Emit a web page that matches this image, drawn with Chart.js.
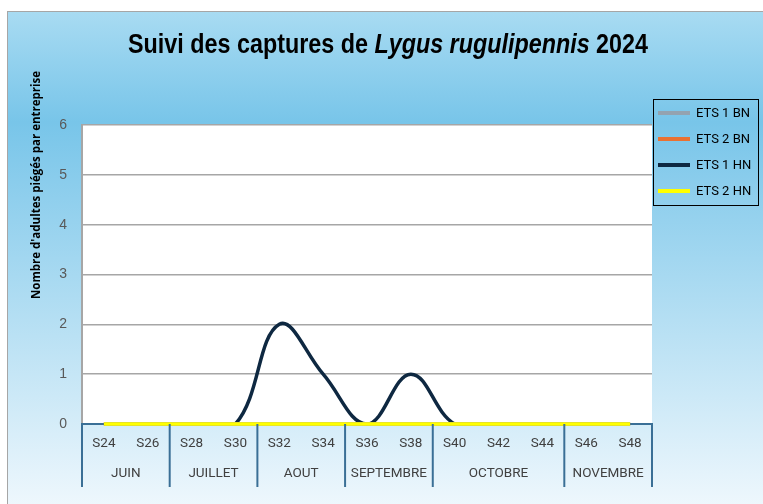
<!DOCTYPE html>
<html>
<head>
<meta charset="utf-8">
<script src="https://cdn.jsdelivr.net/npm/chart.js@4/dist/chart.umd.min.js"></script>
<style>
  html, body { margin: 0; padding: 0; background: #fff; }
  #frame {
    position: absolute; left: 7px; top: 11px; width: 760px; height: 500px;
    border: 1px solid #a6a6a6;
    background: linear-gradient(to bottom, #a8dbf2 0%, #78c5e9 22%, #f0f8fd 100%);
  }
  #c { position: absolute; left: 0; top: 0; }
</style>
</head>
<body>
<div id="frame"></div>
<canvas id="c" width="763" height="504"></canvas>
<script>
const weeks = ['S24', 'S26', 'S28', 'S30', 'S32', 'S34', 'S36', 'S38', 'S40', 'S42', 'S44', 'S46', 'S48'];
const months = ['JUIN', 'JUILLET', 'AOUT', 'SEPTEMBRE', 'OCTOBRE', 'NOVEMBRE'];
const monthWeeks = [2, 2, 2, 2, 3, 2];   // number of weeks under each month

const ets1BN = [0, 0, 0, 0, 0, 0, 0, 0, 0, 0, 0, 0, 0];
const ets2BN = [0, 0, 0, 0, 0, 0, 0, 0, 0, 0, 0, 0, 0];
const ets1HN = [0, 0, 0, 0, 2, 1, 0, 1, 0, 0, 0, 0, 0];
const ets2HN = [0, 0, 0, 0, 0, 0, 0, 0, 0, 0, 0, 0, 0];

// month centers and dividers in week-index units
let monthMid = [];
let monthEdges = [-0.5];
let start = 0;
monthWeeks.forEach(n => {
  monthMid.push(start + (n - 1) / 2);
  start += n;
  monthEdges.push(start - 0.5);
});

const sans = "Roboto, 'Liberation Sans', sans-serif";

const data = {
  labels: weeks,
  datasets: [
    { label: 'ETS 1 BN', data: ets1BN, borderColor: '#94a3b0', backgroundColor: '#94a3b0', order: 1 },
    { label: 'ETS 2 BN', data: ets2BN, borderColor: '#e97132', backgroundColor: '#e97132', order: 1 },
    { label: 'ETS 1 HN', data: ets1HN, borderColor: '#0e2841', backgroundColor: '#0e2841', order: 1 },
    { label: 'ETS 2 HN', data: ets2HN, borderColor: '#ffff00', backgroundColor: '#ffff00', order: 0 },
  ]
};
data.datasets.forEach(ds => {
  ds.borderWidth = 3.5;
  ds.pointRadius = 0;
  ds.tension = 0.4;
  ds.clip = false;
  ds.xAxisID = 'x';
});

const decor = {
  id: 'decor',
  beforeDraw(chart) {
    const a = chart.chartArea;
    const ctx = chart.ctx;
    ctx.save();
    ctx.fillStyle = '#ffffff';
    ctx.fillRect(a.left, a.top, a.right - a.left, a.bottom - a.top);
    ctx.restore();
  },
  afterDraw(chart) {
    const ctx = chart.ctx;
    const a = chart.chartArea;
    const x = chart.scales.x;
    const x2 = chart.scales.x2;
    ctx.save();

    // month dividers
    ctx.strokeStyle = '#3a6f96';
    ctx.lineWidth = 2;
    monthEdges.forEach(v => {
      const px = x2.getPixelForValue(v);
      ctx.beginPath();
      ctx.moveTo(px, x.top);
      ctx.lineTo(px, x2.bottom);
      ctx.stroke();
    });

    // title with italic species name, squeezed to look like a narrow face
    const tf = "27px 'Liberation Sans', sans-serif";
    const parts = [
      ['Suivi des captures de ', 'bold ' + tf],
      ['Lygus rugulipennis', 'italic bold ' + tf],
      [' 2024', 'bold ' + tf],
    ];
    let total = 0;
    parts.forEach(p => { ctx.font = p[1]; total += ctx.measureText(p[0]).width; });
    const squeeze = 520 / total;
    ctx.save();
    ctx.translate(388 - 260, 46);
    ctx.scale(squeeze, 1);
    ctx.fillStyle = '#000000';
    ctx.textBaseline = 'middle';
    ctx.textAlign = 'left';
    let tx = 0;
    parts.forEach(p => {
      ctx.font = p[1];
      ctx.fillText(p[0], tx, 0);
      tx += ctx.measureText(p[0]).width;
    });
    ctx.restore();

    // y axis title
    ctx.save();
    ctx.translate(37, a.top + 60);
    ctx.rotate(-Math.PI / 2);
    ctx.textAlign = 'center';
    ctx.textBaseline = 'middle';
    ctx.fillStyle = '#000000';
    ctx.font = "bold 11.5px 'Open Sans', sans-serif";
    ctx.fillText("Nombre d'adultes piégés par entreprise", 0, 0);
    ctx.restore();

    // legend box
    const lx = 653, ly = 99, lw = 105, lh = 106;
    ctx.strokeStyle = '#000000';
    ctx.lineWidth = 1;
    ctx.strokeRect(lx + 0.5, ly + 0.5, lw, lh);
    ctx.font = '13px ' + sans;
    ctx.textBaseline = 'middle';
    ctx.textAlign = 'left';
    chart.data.datasets.forEach((ds, i) => {
      const ry = ly + 14 + i * 26;
      ctx.strokeStyle = ds.borderColor;
      ctx.lineWidth = 4;
      ctx.beginPath();
      ctx.moveTo(lx + 5, ry);
      ctx.lineTo(lx + 37, ry);
      ctx.stroke();
      ctx.fillStyle = '#000000';
      ctx.fillText(ds.label, lx + 43, ry + 1);
    });
    ctx.restore();
  }
};

const config = {
  type: 'line',
  data: data,
  options: {
    responsive: false,
    animation: false,
    layout: { padding: { left: 40, top: 125, right: 111, bottom: 17 } },
    plugins: {
      legend: { display: false },
      tooltip: { enabled: false },
    },
    scales: {
      y: {
        min: 0,
        max: 6,
        ticks: { stepSize: 1, padding: 15, color: '#595959', font: { family: "'Liberation Sans', sans-serif", size: 14 } },
        grid: { color: '#a6a6a6', lineWidth: 1.5, drawTicks: false },
        border: { color: '#a6a6a6', width: 2 },
        afterFit: s => { s.width = 42; }
      },
      x: {
        type: 'category',
        offset: true,
        ticks: { padding: 12, color: '#404040', maxRotation: 0, autoSkip: false, font: { family: sans, size: 13.5 } },
        grid: { display: false, drawTicks: false },
        border: { color: '#3a6f96', width: 2 },
        afterFit: s => { s.height = 31; }
      },
      x2: {
        type: 'linear',
        position: 'bottom',
        min: -0.5,
        max: 12.5,
        afterBuildTicks: s => { s.ticks = monthMid.map(v => ({ value: v })); },
        ticks: {
          padding: 11, color: '#404040', maxRotation: 0, autoSkip: false,
          font: { family: sans, size: 13.5 },
          callback: v => months[monthMid.indexOf(v)]
        },
        grid: { display: false, drawTicks: false },
        border: { display: false },
        afterFit: s => { s.height = 32; }
      }
    }
  },
  plugins: [decor]
};

const chart = new Chart(document.getElementById('c'), config);
</script>
</body>
</html>
